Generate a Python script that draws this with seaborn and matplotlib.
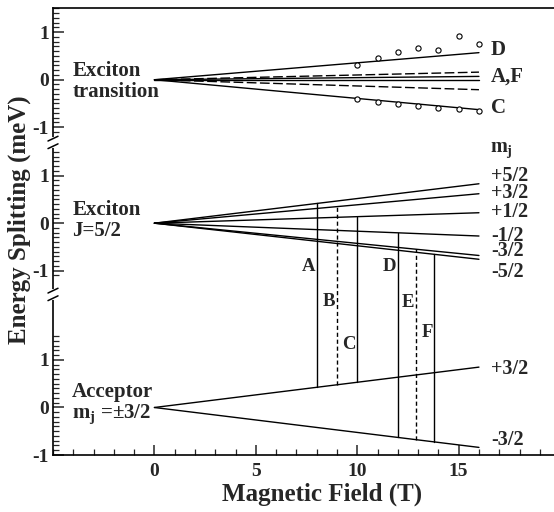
import numpy as np
import pandas as pd
import matplotlib
matplotlib.use("Agg")
import matplotlib.pyplot as plt
import matplotlib.transforms as mtransforms
from matplotlib.ticker import MultipleLocator
import seaborn as sns

# ---- data (energies in meV at 16 T, lines start at 0,0) ----
field_end = 16.0

# exciton transitions (top panel)
transition_names = ["D", "E", "F", "A", "B", "C"]
transition_end = [0.57, 0.16, 0.07, 0.0, -0.21, -0.63]
transition_style = ["solid", "dashed", "solid", "solid", "dashed", "solid"]

# exciton J=5/2 levels (middle panel)
exciton_mj = ["+5/2", "+3/2", "+1/2", "-1/2", "-3/2", "-5/2"]
exciton_end = [0.83, 0.62, 0.22, -0.27, -0.68, -0.76]
exciton_label_y = [0.99, 0.64, 0.24, -0.27, -0.58, -1.02]

# acceptor levels (bottom panel)
acceptor_mj = ["+3/2", "-3/2"]
acceptor_end = [0.85, -0.84]
acceptor_label_y = [0.81, -0.68]

# measured points (open circles)
circle_field = [10, 11, 12, 13, 14, 15, 16]
circle_upper = [0.31, 0.45, 0.59, 0.66, 0.625, 0.92, 0.76]
circle_lower = [-0.40, -0.46, -0.51, -0.55, -0.60, -0.625, -0.66]

# optical transitions drawn as vertical lines
trans_letter = ["A", "B", "C", "D", "E", "F"]
trans_field = [8.0, 9.0, 10.0, 12.0, 12.9, 13.8]
trans_exc = ["+5/2", "+3/2", "+1/2", "-1/2", "-3/2", "-5/2"]
trans_acc = ["+3/2", "+3/2", "+3/2", "-3/2", "-3/2", "-3/2"]
trans_style = ["solid", "dashed", "solid", "solid", "dashed", "solid"]
trans_letter_y = [2.96, 2.23, 1.32, 2.96, 2.20, 1.57]

# layout: vertical offset of each panel on the shared axis
offset = {"top": 6.9, "mid": 3.88, "bot": 0.0}
tick_range = {"top": (-1.1, 1.5), "mid": (-1.1, 1.5), "bot": (-1.0, 1.5)}
breaks = [5.58, 2.38]

sns.set_theme(style="ticks")
plt.rcParams["font.family"] = ["Liberation Serif", "DejaVu Serif"]
plt.rcParams["font.weight"] = "bold"
plt.rcParams["mathtext.fontset"] = "custom"
plt.rcParams["mathtext.rm"] = "Liberation Serif:bold"
plt.rcParams["mathtext.it"] = "Liberation Serif:bold"
plt.rcParams["mathtext.bf"] = "Liberation Serif:bold"

# long table of level lines
rows = []
for name, end, st in zip(transition_names, transition_end, transition_style):
    for f, e in ((0.0, 0.0), (field_end, end)):
        rows.append(("tr_" + name, "top", f, e, st))
for name, end in zip(exciton_mj, exciton_end):
    for f, e in ((0.0, 0.0), (field_end, end)):
        rows.append(("ex_" + name, "mid", f, e, "solid"))
for name, end in zip(acceptor_mj, acceptor_end):
    for f, e in ((0.0, 0.0), (field_end, end)):
        rows.append(("ac_" + name, "bot", f, e, "solid"))
lines = pd.DataFrame(rows, columns=["line", "panel", "field", "energy", "style"])
lines["y"] = lines["energy"] + lines["panel"].map(offset)

fig = plt.figure(figsize=(5.54, 5.12), dpi=100)
ax = fig.add_axes([53 / 554, 1 - 455 / 512, 1 - 53 / 554, 447 / 512])

sns.lineplot(data=lines, x="field", y="y", units="line", estimator=None,
             style="style", dashes={"solid": "", "dashed": (7, 2.5)},
             color="black", linewidth=1.0, legend=False, sort=False, ax=ax)

circles = pd.DataFrame({
    "field": circle_field + circle_field,
    "y": np.array(circle_upper + circle_lower) + offset["top"],
})
sns.scatterplot(data=circles, x="field", y="y", marker="o", s=14,
                facecolor="white", edgecolor="black", linewidth=0.8,
                zorder=4, ax=ax)

# vertical transition lines between exciton and acceptor levels
exc_lookup = dict(zip(exciton_mj, exciton_end))
acc_lookup = dict(zip(acceptor_mj, acceptor_end))
for letter, f, e, a, st, ly in zip(trans_letter, trans_field, trans_exc,
                                   trans_acc, trans_style, trans_letter_y):
    y_top = np.interp(f, [0, field_end], [0, exc_lookup[e]]) + offset["mid"]
    y_bot = np.interp(f, [0, field_end], [0, acc_lookup[a]]) + offset["bot"]
    ls = (0, (3, 2)) if st == "dashed" else "-"
    ax.plot([f, f], [y_bot, y_top], color="black", lw=1.0, linestyle=ls)
    ax.text(f - 0.08, ly, letter, ha="right", va="center", fontsize=13.5,
            fontweight="bold")

# left-hand panel titles
ax.text(-4.05, offset["top"] - 0.03, "Exciton\ntransition", ha="left",
        va="center", fontsize=15, fontweight="bold", linespacing=1.05)
ax.text(-4.05, offset["mid"] + 0.05, "Exciton\nJ=5/2", ha="left",
        va="center", fontsize=15, fontweight="bold", linespacing=1.05)
ax.text(-4.05, offset["bot"] + 0.08, "Acceptor\nm$_\\mathrm{j}$ =±3/2", ha="left",
        va="center", fontsize=15, fontweight="bold", linespacing=1.05)

# right-hand labels
lx = 16.6
rfs = 14.5
ax.text(lx, offset["top"] + 0.63, "D", fontsize=15, fontweight="bold", va="center")
ax.text(lx, offset["top"] + 0.06, "A,F", fontsize=15, fontweight="bold", va="center")
ax.text(lx, offset["top"] - 0.59, "C", fontsize=15, fontweight="bold", va="center")
ax.text(lx - 0.05, offset["mid"] + 1.55, "m$_\\mathrm{j}$", fontsize=rfs,
        fontweight="bold", va="center")
for name, ly in zip(exciton_mj, exciton_label_y):
    ax.text(lx, offset["mid"] + ly, name, fontsize=rfs, fontweight="bold", va="center")
for name, ly in zip(acceptor_mj, acceptor_label_y):
    ax.text(lx, offset["bot"] + ly, name, fontsize=rfs, fontweight="bold", va="center")

# axes
ax.set_xlim(-5, 19.7)
ax.set_ylim(-1.0, 8.41)
ax.set_xticks([0, 5, 10, 15])
ax.xaxis.set_minor_locator(MultipleLocator(1))

major, labels, minor = [], [], []
for p in ("top", "mid", "bot"):
    lo, hi = tick_range[p]
    for v in (-1, 0, 1):
        major.append(v + offset[p])
        labels.append(str(v))
    minor.extend(np.round(np.arange(lo, hi + 1e-6, 0.1), 2) + offset[p])
ax.set_yticks(major)
ax.set_yticklabels(labels)
ax.set_yticks(minor, minor=True)

ax.tick_params(axis="both", which="both", direction="in", top=False, right=False)
ax.tick_params(axis="y", which="major", length=8, width=1.1, labelsize=14, pad=3)
ax.tick_params(axis="y", which="minor", length=4, width=0.9)
ax.tick_params(axis="x", which="major", length=7, width=1.1, labelsize=14, pad=6)
ax.tick_params(axis="x", which="minor", length=4, width=0.9)
for lab in ax.get_xticklabels() + ax.get_yticklabels():
    lab.set_fontweight("bold")

ax.spines["right"].set_visible(False)
for s in ("left", "bottom", "top"):
    ax.spines[s].set_linewidth(1.2)
    ax.spines[s].set_color("black")

ax.set_xlabel("Magnetic Field (T)", fontsize=18, fontweight="bold")
ax.set_ylabel("Energy Splitting (meV)", fontsize=18, fontweight="bold")
ax.xaxis.set_label_coords(0.537, -0.062)
ax.yaxis.set_label_coords(-0.044, 0.526)

# axis break marks
trans = mtransforms.blended_transform_factory(ax.transAxes, ax.transData)
for b in breaks:
    ax.plot([0, 0], [b - 0.08, b + 0.08], color="white", lw=3,
            transform=trans, clip_on=False, zorder=5)
    for d in (-0.08, 0.08):
        ax.plot([-0.01, 0.01], [b + d - 0.05, b + d + 0.05], color="black",
                lw=1.1, transform=trans, clip_on=False, zorder=6)

fig.savefig("out.png", dpi=100)
